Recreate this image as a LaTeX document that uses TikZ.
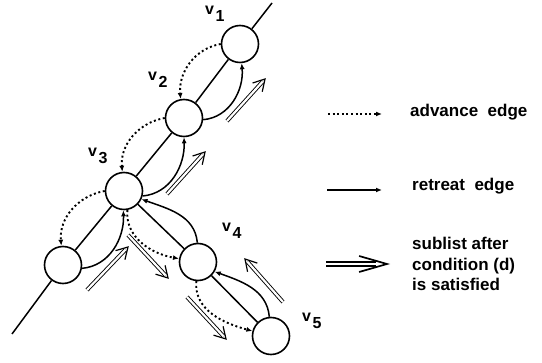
\documentclass[tikz,border=0pt]{standalone}
\usepackage{fontspec}
\setmainfont{Liberation Sans}
\usetikzlibrary{arrows.meta,calc}
\newcommand\sublarrow[6]{%
  \draw[#1] (#2) -- ($(#3)!#6!(#2)$);
  \draw[#1 chev] ($(#3)!#4!#5:(#2)$) -- (#3) -- ($(#3)!#4!-#5:(#2)$);}
\begin{document}
\begin{tikzpicture}[x=1pt,y=-1pt,
 vert/.style={circle, draw, line width=1.6pt, minimum size=37pt, inner sep=0pt},
 mainline/.style={line width=1.5pt},
 adv/.style={line width=1.9pt, dash pattern=on 2pt off 2.6pt, -{Latex[length=6pt,width=5pt]}},
 ret/.style={line width=1.5pt, -{Latex[length=6pt,width=5pt]}},
 subl/.style={double, double distance=2.2pt, line width=0.9pt},
 subl chev/.style={line width=1.2pt, line join=miter, line cap=butt},
 legsubl/.style={double, double distance=2.6pt, line width=1.6pt},
 legsubl chev/.style={line width=1.7pt, line join=miter, line cap=butt},
 lbl/.style={anchor=base west, inner sep=0pt, font=\bfseries\fontsize{16}{16}\selectfont},
 txt/.style={anchor=base west, inner sep=0pt, font=\bfseries\fontsize{17}{20.5}\selectfont}
]
\useasboundingbox (0,0) rectangle (542,363);
% vertices
\node[vert] (v1) at (240,44) {};
\node[vert] (v2) at (184,118) {};
\node[vert] (v3) at (124,191) {};
\node[vert] (v0) at (63,265) {};
\node[vert] (v4) at (198,262) {};
\node[vert] (v5) at (271,336) {};
\coordinate (top) at (272,3);
\coordinate (bot) at (12,334);
% labels
\node[lbl] (l1) at (205,15) {v\kern1.5pt\raisebox{-7pt}{1}};
\node[lbl] (l2) at (148,81) {v\kern1.5pt\raisebox{-7pt}{2}};
\node[lbl] (l3) at (88,157) {v\kern1.5pt\raisebox{-7pt}{3}};
\node[lbl] (l4) at (222,232) {v\kern1.5pt\raisebox{-7pt}{4}};
\node[lbl] (l5) at (302,322) {v\kern1.5pt\raisebox{-7pt}{5}};
% list lines
\draw[mainline] (top) -- (v1) -- (v2) -- (v3) -- (v0) -- (bot);
\draw[mainline] (v3) -- (v4) -- (v5);
% advance edges
\draw[adv] (v1.west) to[out=190,in=95] (v2.100);
\draw[adv] (v2.west) to[out=190,in=95] (v3.95);
\draw[adv] (v3.west) to[out=190,in=95] (v0.95);
\draw[adv] (v3.-80) to[out=-95,in=170] (v4.170);
\draw[adv] (v4.-95) to[out=-95,in=165] (v5.165);
% retreat edges
\draw[ret] (v2.-5) to[out=5,in=-85] (v1.-85);
\draw[ret] (v3.-15) to[out=5,in=-88] (v2.-90);
\draw[ret] (v0.-10) to[out=5,in=-88] (v3.-92);
\draw[ret] (v4.92) to[out=95,in=-20] (v3.-25);
\draw[ret] (v5.95) to[out=95,in=-20] (v4.-30);
% sublist arrows
\coordinate (s1a) at (227,121); \coordinate (s1b) at (265,79);
\coordinate (s2a) at (167,194); \coordinate (s2b) at (205,152);
\coordinate (s3a) at (87,290);  \coordinate (s3b) at (128,247);
\coordinate (s4a) at (128,235); \coordinate (s4b) at (168,278);
\coordinate (s5a) at (187,297); \coordinate (s5b) at (226,339);
\coordinate (s6a) at (283,302); \coordinate (s6b) at (245,259);
\sublarrow{subl}{s1a}{s1b}{13pt}{30}{3.8pt}
\sublarrow{subl}{s2a}{s2b}{13pt}{30}{3.8pt}
\sublarrow{subl}{s3a}{s3b}{13pt}{30}{3.8pt}
\sublarrow{subl}{s4a}{s4b}{13pt}{30}{3.8pt}
\sublarrow{subl}{s5a}{s5b}{13pt}{30}{3.8pt}
\sublarrow{subl}{s6a}{s6b}{13pt}{30}{3.8pt}
% legend
\coordinate (a1) at (328,114); \coordinate (a2) at (382,114);
\coordinate (r1) at (327,190); \coordinate (r2) at (382,190);
\coordinate (d1) at (326,264); \coordinate (d2) at (387,264);
\draw[adv] (a1) -- (a2);
\draw[ret] (r1) -- (r2);
\sublarrow{legsubl}{d1}{d2}{29pt}{16}{11pt}
\node[txt] (t1) at (410,117) {advance\ \ edge};
\node[txt] (t2) at (412,191) {retreat\ \ edge};
\node[txt] (t3) at (412,250) {sublist after};
\node[txt] (t4) at (412,270.5) {condition (d)};
\node[txt] (t5) at (412,291) {is satisfied};
\end{tikzpicture}
\end{document}
